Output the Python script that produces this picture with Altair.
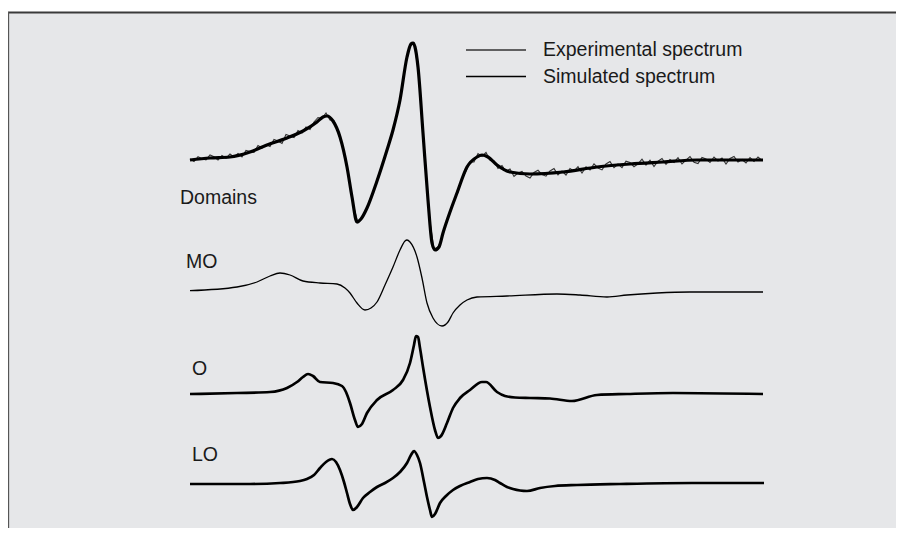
import altair as alt
import pandas as pd

# ---------------- data ----------------
# magnetic field (G, arbitrary origin) and intensity (a.u.) relative to each trace's baseline
EXP_LABEL = "Experimental spectrum"
SIM_LABEL = "Simulated spectrum"

# experimental spectrum sampled every 4 G from 3300 to 3872 G
exp_field = list(range(3300, 3873, 4))
exp_int = [
    1, -1.6, 3.3, 1.2, 0.1, 5, 3.2, -0.1, 4.6, 1.8,
    6, 3, 6.5, 3, 9.5, 8.5, 7.6, 14.5, 12, 15.6,
    13.5, 20.5, 19, 16.5, 25.5, 24, 22.5, 29.5, 27, 33,
    30.5, 38, 42.5, 41.5, 47, 40, 39, 28, 15, -3,
    -25, -48, -63, -57, -51, -39, -30, -17, -6, 7,
    19, 35, 50, 72, 97, 114, 117, 92, 40, -13,
    -62, -89, -87, -78, -63, -53, -40, -32, -19, -11,
    -2, -2, 6.5, 3.5, 7.5, 0, -1, -8.5, -5.5, -11.5,
    -9, -16.5, -13, -11.5, -16, -18, -12.5, -10.3, -14.6, -16.2,
    -11, -8.6, -14.8, -11, -15, -8.5, -11.2, -6.6, -13, -6.9,
    -10, -3.9, -8, -9.9, -4, -1.6, -7.7, -4, -7.6, -1.2,
    -2.5, -6.7, -3.9, 0.8, -5, -0.2, -6.5, -1.2, 1.5, -4.3,
    0.4, -2.4, 2.3, -4, -0.2, 3.5, -2.2, -3.5, 2.5, 1,
    -2.5, 3, -1, 2, -4, 1.5, 3.5, -2, 0.5, -3,
    2.5, -1.5, 3, -0.5,
]

sim_field = [3300, 3320, 3340, 3360, 3377, 3397, 3413, 3427, 3433, 3437,
             3443, 3450, 3457, 3462, 3467, 3471, 3477, 3487, 3497, 3503,
             3510, 3517, 3521, 3523, 3525, 3528, 3533, 3538, 3542, 3545,
             3549, 3553, 3560, 3567, 3577, 3587, 3592, 3598, 3607, 3620,
             3640, 3673, 3707, 3740, 3773, 3807, 3840, 3873]
sim_int = [0, 2, 3, 8, 15, 22, 29, 38, 43, 44,
           39, 23, -7, -37, -62, -59, -48, -21, 10, 30,
           60, 103, 116, 117, 113, 93, 27, -40, -83, -90,
           -87, -73, -52, -33, -7, 3, 5, 3, -5, -12,
           -14, -12, -7, -4, -2, 0, 0, 0]

mo_field = [3300, 3347, 3367, 3380, 3390, 3400, 3413, 3430, 3447, 3455,
            3460, 3467, 3475, 3481, 3487, 3495, 3503, 3510, 3515, 3517,
            3520, 3527, 3532, 3537, 3543, 3552, 3558, 3563, 3570, 3577,
            3587, 3617, 3667, 3690, 3717, 3737, 3767, 3800, 3850, 3873]
mo_int = [0.3, 4, 9, 15, 18, 16, 10, 8, 7, 3,
          -2, -12, -19, -17, -11, 6, 24, 41, 50, 51,
          49, 34, 13, -12, -27, -35, -31, -22, -14, -9,
          -6, -5, -3, -4, -6, -4, -2, -1, -1, -1]

o_field = [3300, 3347, 3380, 3397, 3407, 3413, 3418, 3423, 3430, 3443,
           3452, 3456, 3460, 3465, 3468, 3472, 3477, 3487, 3503, 3513,
           3520, 3524, 3526, 3528, 3530, 3533, 3540, 3545, 3548, 3551,
           3557, 3563, 3570, 3580, 3592, 3596, 3607, 3615, 3625, 3640,
           3660, 3682, 3707, 3737, 3783, 3873]
o_int = [0, 1, 2, 6, 12, 17, 20, 18, 12, 11,
         8, 2, -9, -26, -33, -30, -19, -6, 4, 14,
         31, 49, 58, 57, 46, 27, -13, -36, -44, -42,
         -29, -14, -4, 4, 12, 12, 2, -2, -3.5, -4,
         -4.5, -7, -1, 0, 1, 0]

lo_field = [3300, 3360, 3390, 3410, 3417, 3424, 3430, 3436, 3442, 3446,
            3450, 3454, 3457, 3460, 3463, 3467, 3473, 3480, 3487, 3495,
            3503, 3510, 3517, 3521, 3524, 3527, 3530, 3534, 3537, 3540,
            3542, 3545, 3550, 3556, 3563, 3570, 3580, 3588, 3597, 3605,
            3610, 3617, 3623, 3630, 3637, 3650, 3665, 3687, 3730, 3802,
            3874]
lo_int = [0, 0, 1, 3, 5, 9, 16, 22, 25, 22,
          14, 2, -9, -20, -26, -23, -14, -8, -3, 1,
          6, 12, 21, 29, 33, 29, 21, 2, -13, -26,
          -33, -30, -19, -12, -6, -2, 2, 5, 6, 4,
          1, -3, -5, -6.5, -7, -4, -2, -1, 0, 1,
          1]

# vertical stacking offsets of each trace (a.u.)
trace_names = ["Domains", "MO", "O", "LO"]
trace_offsets = [368, 237, 134, 44]

# trace labels: name, field and intensity of label anchor
label_text = ["Domains", "MO", "O", "LO"]
label_field = [3290, 3296, 3302, 3302]
label_int = [330, 266, 159, 73]

# ---------------- build tables ----------------
off = dict(zip(trace_names, trace_offsets))
exp_df = pd.DataFrame({"field": exp_field, "intensity": [off["Domains"] + v for v in exp_int],
                       "series": EXP_LABEL})
sim_df = pd.DataFrame({"field": sim_field, "intensity": [off["Domains"] + v for v in sim_int],
                       "series": SIM_LABEL})
mo_df = pd.DataFrame({"field": mo_field, "intensity": [off["MO"] + v for v in mo_int]})
o_df = pd.DataFrame({"field": o_field, "intensity": [off["O"] + v for v in o_int]})
lo_df = pd.DataFrame({"field": lo_field, "intensity": [off["LO"] + v for v in lo_int]})
lab_df = pd.DataFrame({"label": label_text, "field": label_field, "intensity": label_int})

W, H = 888, 516
FONT = "Liberation Sans"

xs = alt.Scale(domain=[3118, 4006], nice=False, zero=False)
ys = alt.Scale(domain=[0, 516], nice=False, zero=False)
X = alt.X("field:Q", scale=xs, axis=None)
Y = alt.Y("intensity:Q", scale=ys, axis=None)

color = alt.Color(
    "series:N",
    scale=alt.Scale(domain=[EXP_LABEL, SIM_LABEL], range=["#333333", "#000000"]),
    legend=alt.Legend(
        orient="none", legendX=457, legendY=28, title=None,
        symbolType="stroke", symbolSize=3600, symbolStrokeWidth=1.7,
        symbolStrokeColor={"expr": f"datum.value === '{EXP_LABEL}' ? '#7a7a7a' : '#000000'"},
        labelFontSize=19.5, labelFont=FONT, labelColor="#1a1a1a", labelLimit=0,
        labelOffset=16, rowPadding=6.5, clipHeight=20, padding=0,
    ),
)

exp_layer = alt.Chart(exp_df).mark_line(strokeWidth=1.1).encode(x=X, y=Y, color=color, order="field:Q")
sim_layer = alt.Chart(sim_df).mark_line(strokeWidth=3.2, interpolate="monotone").encode(
    x=X, y=Y, color=color, order="field:Q")
mo_layer = alt.Chart(mo_df).mark_line(strokeWidth=1.3, color="#000", interpolate="monotone").encode(x=X, y=Y)
o_layer = alt.Chart(o_df).mark_line(strokeWidth=2.7, color="#000", interpolate="monotone").encode(x=X, y=Y)
lo_layer = alt.Chart(lo_df).mark_line(strokeWidth=2.7, color="#000", interpolate="monotone").encode(x=X, y=Y)

labels = alt.Chart(lab_df).mark_text(
    align="left", baseline="middle", fontSize=19.5, font=FONT, color="#1a1a1a"
).encode(x=X, y=Y, text="label:N")

top_rule = alt.Chart(pd.DataFrame({"a": [0]})).mark_rule(color="#3a3a3a", strokeWidth=2).encode(
    x=alt.value(0), x2=alt.value(W), y=alt.value(0.5))
left_rule = alt.Chart(pd.DataFrame({"a": [0]})).mark_rule(color="#555555", strokeWidth=1.3).encode(
    x=alt.value(0.5), y=alt.value(0), y2=alt.value(H))

chart = alt.layer(
    exp_layer, sim_layer, mo_layer, o_layer, lo_layer, labels, top_rule, left_rule
).properties(
    width=W, height=H,
    autosize=alt.AutoSizeParams(type="none"),
    padding={"left": 0, "top": 4, "right": 0, "bottom": 0},
    background="white",
).configure_view(stroke=None, fill="#e6e7e9")

chart.save("out.html", embed_options={"renderer": "svg", "actions": False})
